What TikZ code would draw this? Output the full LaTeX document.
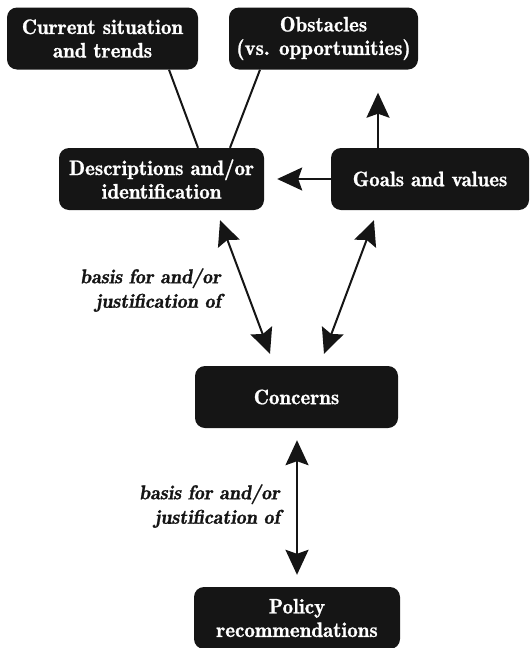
\documentclass[tikz,border=0pt]{standalone}
\usepackage{fontspec}
\setmainfont{lmroman10}[
  Extension=.otf,
  UprightFont=*-regular,
  ItalicFont=*-italic,
  BoldFont=lmromandemi10-regular,
  BoldFeatures={FakeBold=1},
  BoldItalicFont=lmromandemi10-oblique,
  BoldItalicFeatures={FakeBold=1}]
\usepackage{xcolor}
\usetikzlibrary{arrows.meta}
\definecolor{boxfill}{HTML}{151515}
\tikzset{
  every picture/.style={line join=round, >={Stealth[length=25pt,width=23pt,inset=4pt]}},
  box/.style={rounded corners=10pt, fill=boxfill, text=white, inner sep=0pt,
    minimum height=62pt, align=center,
    font=\fontsize{21}{23.5}\selectfont\bfseries},
  lbl/.style={align=right, inner sep=0pt, text=boxfill,
    font=\fontsize{20}{24.5}\selectfont\bfseries\itshape},
  link/.style={line width=2pt, draw=boxfill},
  arr/.style={link, ->},
  biarr/.style={link, <->},
}

\begin{document}
\begin{tikzpicture}[x=1pt,y=-1pt]
\useasboundingbox(0,0) rectangle (530,648);
% boxes
\node[box,minimum width=191pt](current) at (102.5,38.5){Current situation\\and trends};
\node[box,minimum width=189pt](obst) at (323.5,38.5){Obstacles\\(vs. opportunities)};
\node[box,minimum width=205pt](desc) at (161.5,179){Descriptions and/or\\identification};
\node[box,minimum width=198pt](goals) at (430,179){Goals and values};
\node[box,minimum width=203pt](conc) at (296.5,397){Concerns};
\node[box,minimum width=206pt](policy) at (297,618){Policy\\recommendations};
% labels
\node[lbl,anchor=east](basis1) at (221,290){basis for and/or\\justification of};
\node[lbl,anchor=east](basis2) at (280,506){basis for and/or\\justification of};
% connectors
\draw[link]([xshift=66.5pt]current.south)--([xshift=36.5pt]desc.north);
\draw[link]([xshift=-63.5pt]obst.south)--([xshift=68.5pt]desc.north);
\draw[arr,shorten >=23pt]([xshift=-52pt]goals.north)--([xshift=54.5pt]obst.south);
\draw[arr,shorten >=13pt](goals.west)--(desc.east);
\draw[biarr,shorten <=10.7pt,shorten >=12.8pt]([xshift=54.8pt]desc.south)--([xshift=-22pt]conc.north);
\draw[biarr,shorten <=10.7pt,shorten >=12.8pt]([xshift=-52.3pt]goals.south)--([xshift=23pt]conc.north);
\draw[biarr,shorten <=12pt,shorten >=12pt]([xshift=0.5pt]conc.south)--(policy.north);
\end{tikzpicture}
\end{document}
